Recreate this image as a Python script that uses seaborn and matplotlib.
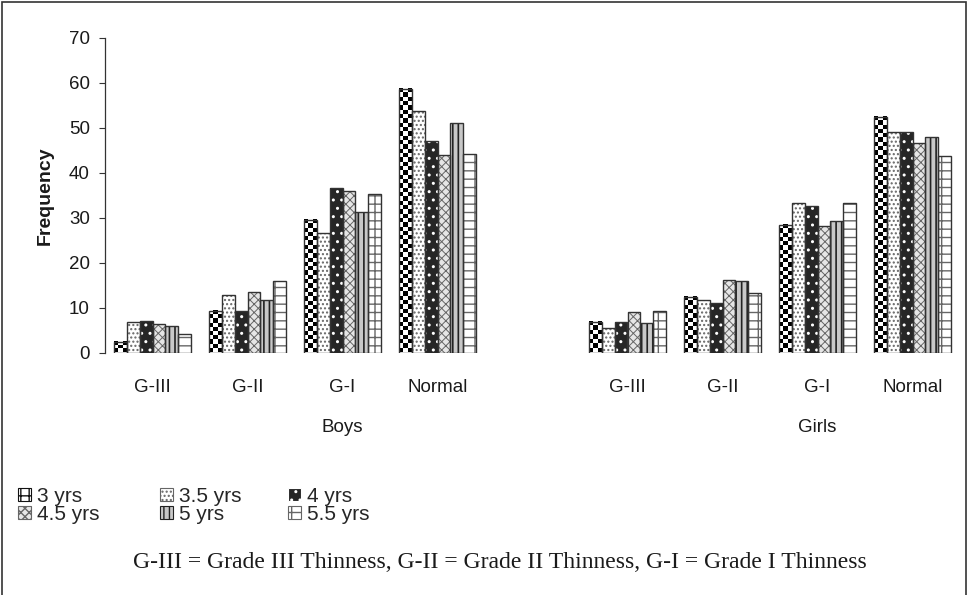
import numpy as np
import pandas as pd
import seaborn as sns
import matplotlib.pyplot as plt
from matplotlib.patches import Rectangle, Patch

# categories and series
grades = ['G-III', 'G-II', 'G-I', 'Normal']
groups = ['Boys', 'Girls']
ages = ['3 yrs', '3.5 yrs', '4 yrs', '4.5 yrs', '5 yrs', '5.5 yrs']

# values per age: Boys G-III, G-II, G-I, Normal, then Girls G-III, G-II, G-I, Normal
yrs_3 = [2.4, 9.3, 29.5, 58.6, 6.8, 12.3, 28.4, 52.5]
yrs_3_5 = [6.8, 12.8, 26.6, 53.8, 5.4, 11.7, 33.3, 49.1]
yrs_4 = [7.0, 9.3, 36.6, 47.1, 6.8, 11.1, 32.6, 49.1]
yrs_4_5 = [6.3, 13.4, 36.0, 44.0, 9.1, 16.1, 28.2, 46.6]
yrs_5 = [5.9, 11.6, 31.3, 51.0, 6.6, 15.9, 29.3, 48.0]
yrs_5_5 = [4.1, 15.9, 35.3, 44.2, 9.3, 13.3, 33.3, 43.8]
series = [yrs_3, yrs_3_5, yrs_4, yrs_4_5, yrs_5, yrs_5_5]

caption = 'G-III = Grade III Thinness, G-II = Grade II Thinness, G-I = Grade I Thinness'

# one empty slot between boys and girls
slots = [f'Boys {c}' for c in grades] + [''] + [f'Girls {c}' for c in grades]

rows = []
for age, vals in zip(ages, series):
    for i, v in enumerate(vals):
        sex = groups[i // 4]
        rows.append({'slot': f'{sex} {grades[i % 4]}', 'age': age, 'freq': v})
df = pd.DataFrame(rows)

# fill, hatch, hatch colour, hatch width for each age (3 yrs gets a checkerboard below)
styles = [
    ('white', '', '#111111', 1.0),
    ('white', '....', '#666666', 1.0),
    ('#262626', '..', 'white', 1.0),
    ('#e6e6e6', 'xxxx', '#666666', 0.7),
    ('#c8c8c8', '|||', '#222222', 1.2),
    ('white', '--|', '#666666', 1.0),
]

sns.set_theme(style='white')
plt.rcParams['font.family'] = ['Liberation Sans', 'DejaVu Sans']

fig = plt.figure(figsize=(9.68, 5.95), dpi=100)
ax = fig.add_axes([105 / 968, (595 - 352.5) / 595, 855 / 968, 314.5 / 595])

sns.barplot(data=df, x='slot', y='freq', hue='age', order=slots, hue_order=ages,
            width=0.81, errorbar=None, saturation=1, palette=['white'] * 6,
            legend=False, ax=ax)

ax.set_xlim(-0.5, 8.5)
ax.set_ylim(0, 70)


def style_patch(p, face, hatch, hc, hlw):
    p.set_facecolor(face)
    p.set_edgecolor(hc)
    p.set_hatch(hatch)
    p.set_linewidth(0)
    if hasattr(p, 'set_hatch_linewidth'):
        p.set_hatch_linewidth(hlw)


# pixel size of one data unit, to size the checker squares
px_x = 855 / 9
px_y = 314.5 / 70
cell = 4.3

for k, (cont, (face, hatch, hc, hlw)) in enumerate(zip(ax.containers, styles)):
    for p in cont.patches:
        style_patch(p, face, hatch, hc, hlw)
        x0, y0 = p.get_xy()
        w, h = p.get_width(), p.get_height()
        if k == 0:
            nx = max(1, round(w * px_x / cell))
            ny = max(1, round(h * px_y / cell))
            board = np.indices((ny, nx)).sum(axis=0) % 2
            ax.imshow(board, cmap='gray', vmin=0, vmax=1, extent=(x0, x0 + w, y0, y0 + h),
                      origin='lower', interpolation='nearest', aspect='auto', zorder=2)
        ax.add_patch(Rectangle((x0, y0), w, h, fill=False, ec='#333333', lw=1.0, zorder=3))

ax.set_xlim(-0.5, 8.5)
ax.set_ylim(0, 70)
ax.set_aspect('auto')
ax.set_yticks(range(0, 71, 10))
ax.set_xticks(range(len(slots)), grades + [''] + grades)
ax.tick_params(axis='x', length=0, pad=19, labelsize=13.5, colors='#1a1a1a')
ax.tick_params(axis='y', left=True, length=4, width=0.8, pad=7, labelsize=13.5,
               colors='#1a1a1a', color='#333333')
ax.set_xlabel('')
ax.set_ylabel('Frequency', fontsize=14, fontweight='bold', labelpad=11, color='#1a1a1a')
for s in ['top', 'right', 'bottom']:
    ax.spines[s].set_visible(False)
ax.spines['left'].set_color('#333333')
ax.spines['left'].set_linewidth(0.9)

# group names under the category labels
for xpos, name in zip([2, 7], groups):
    ax.text(xpos, -0.237, name, transform=ax.get_xaxis_transform(),
            ha='center', va='center', fontsize=13.5, color='#1a1a1a')

# legend, three columns of two rows
legend_styles = [('white', '++', '#111111')] + [s[:3] for s in styles[1:]]
handles = [Patch(facecolor=f, edgecolor=c, hatch=h, lw=0.8) for f, h, c in legend_styles]
col_x = [18, 160, 288]
for j, x0 in enumerate(col_x):
    fig.legend([handles[j], handles[j + 3]], [ages[j], ages[j + 3]],
               loc='upper left', bbox_to_anchor=(x0 / 968, 1 - 487 / 595),
               frameon=False, fontsize=15, handlelength=0.6, handleheight=0.6,
               handletextpad=0.3, labelspacing=-0.05, borderpad=0, borderaxespad=0)

fig.text(500 / 968, 1 - 563 / 595, caption, ha='center', va='center',
         fontsize=17, family=['Liberation Serif', 'DejaVu Serif'], color='#1a1a1a')

# frame round the whole picture
fig.patches.append(Rectangle((0.002, -0.02), 0.996, 1.017, transform=fig.transFigure,
                             fill=False, ec='#333333', lw=1.2))

fig.savefig('out.png', dpi=100)
